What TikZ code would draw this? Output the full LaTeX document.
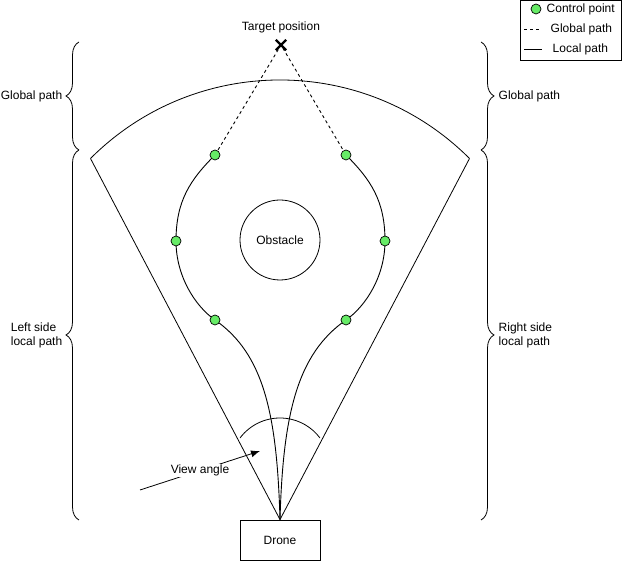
\documentclass[tikz,border=0pt]{standalone}
\usepackage{fontspec}
\setmainfont{Liberation Sans}
\usetikzlibrary{decorations.pathreplacing,shapes.misc,arrows.meta,backgrounds}
\definecolor{ptgreen}{RGB}{102,235,102}

\begin{document}
\begin{tikzpicture}[x=1pt,y=1pt,line width=0.8pt,
  font=\fontsize{12}{14}\selectfont,
  ctrlpt/.style={circle,draw,fill=ptgreen,inner sep=0pt,minimum size=10pt,line width=0.7pt},
  locpath/.style={draw,line width=0.9pt},
  globpath/.style={draw,line width=0.9pt,dash pattern=on 3pt off 3pt},
  sidebrace/.style={decorate,decoration={brace,amplitude=13pt}}]
\useasboundingbox (0,0) rectangle (641,561);

  % Draw the drone and the field of view
  \node[draw,minimum width=80pt,minimum height=40pt] (drone) at (280,21) {Drone};
  \coordinate (fovc) at (280,213);
  \coordinate (fovl) at ([shift={(135:268pt)}]fovc);
  \coordinate (fovr) at ([shift={(45:268pt)}]fovc);
  \draw (fovl) -- (drone.north) -- (fovr);
  \draw (fovl) arc[start angle=135,end angle=45,radius=268pt];

  % Obstacle and target
  \node[draw,circle,minimum size=80pt] (obst) at (280,321) {Obstacle};
  \node[draw,cross out,line width=2.4pt,minimum size=8pt,inner sep=0pt] (target) at (281,516) {};
  \node[above=3pt] (tlabel) at (target.north) {Target position};

  % Control points
  \node[ctrlpt] (l1) at (215,241) {};
  \node[ctrlpt] (l2) at (176,320) {};
  \node[ctrlpt] (l3) at (215,406) {};
  \node[ctrlpt] (r1) at (346,241) {};
  \node[ctrlpt] (r2) at (385,320) {};
  \node[ctrlpt] (r3) at (346,406) {};

  \begin{scope}[on background layer]
  % Local paths
  \path[locpath] (drone.north) .. controls +(-3,105) and +(49,-34) .. (l1.center)
        .. controls +(-20,14) and +(0,-35) .. (l2.center)
        .. controls +(0,40) and +(-25,-25) .. (l3.center);
  \path[locpath] (drone.north) .. controls +(3,105) and +(-49,-34) .. (r1.center)
        .. controls +(20,14) and +(0,-35) .. (r2.center)
        .. controls +(0,40) and +(25,-25) .. (r3.center);
  % Global paths
  \path[globpath] (l3.center) -- (target.center) -- (r3.center);
  \end{scope}

  % View angle
  \draw ([shift={(143:50pt)}]280,93) arc[start angle=143,end angle=37,radius=50pt];
  \coordinate (va0) at (140,71);
  \coordinate (va1) at (260,110);
  \draw[-{Latex[length=9pt,width=7pt]}] (va0) -- (va1)
    node[midway,fill=white,inner sep=0.5pt] (valabel) {View angle};

  % Braces
  \draw[sidebrace] (79,411) -- (79,519) node[midway,left=13pt] (lglob) {Global path};
  \draw[sidebrace] (79,41) -- (79,411) node[midway,left=13pt,align=left] (lloc) {Left side\\local path};
  \draw[sidebrace] (481,519) -- (481,411) node[midway,right=14pt] (rglob) {Global path};
  \draw[sidebrace] (481,411) -- (481,41) node[midway,right=14pt,align=left] (rloc) {Right side\\local path};

  % Legend
  \draw (520,501) rectangle (621,560.5);
  \node[ctrlpt] (lgpt) at (536,552) {};
  \node[anchor=west] (lgptt) at (543,552) {Control point};
  \draw[globpath] (524,532) -- (541,532);
  \node[anchor=west] (lgglob) at (547,532) {Global path};
  \draw (524,512) -- (542,512);
  \node[anchor=west] (lgloc) at (549,512) {Local path};
\end{tikzpicture}
\end{document}
